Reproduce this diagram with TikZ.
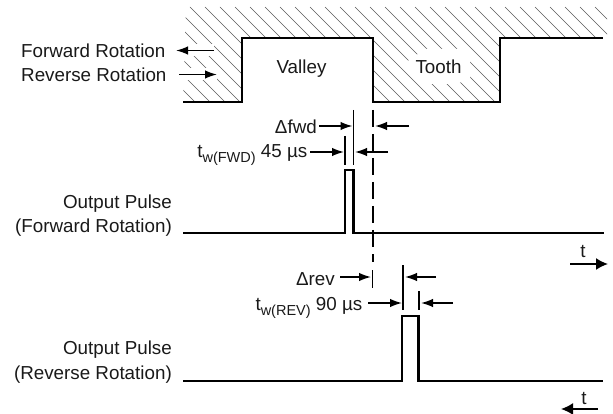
\documentclass[tikz,border=0pt]{standalone}
\usepackage{fontspec}
\setmainfont{Liberation Sans}
\usetikzlibrary{arrows.meta}
\newcommand{\lowsub}[1]{\raisebox{-5pt}{\fontsize{14.5}{16}\selectfont #1}}
\tikzset{
  x=1pt,y=-1pt,
  profile/.style={line width=2.2pt,black,line join=miter},
  hatchline/.style={line width=0.5pt,black!65},
  wave/.style={line width=2.2pt,black,line join=miter},
  tick/.style={line width=1.4pt,black},
  thicktick/.style={line width=1.9pt,black},
  dimarrow/.style={line width=1.5pt,-{Latex[length=12pt,width=8.5pt]}},
  timearrow/.style={line width=1.7pt,-{Latex[length=12pt,width=12pt]}},
  halo/.style={line width=12pt,white},
  label/.style={inner sep=0pt,font=\fontsize{18.8}{22}\selectfont,text=black!90},
}
\begin{document}
\begin{tikzpicture}
\useasboundingbox (0,0) rectangle (613,414);
% hatching above the profile
\begin{scope}
\clip (183,102) -- (242,102) -- (242,38) -- (373,38) -- (373,102) -- (500,102) -- (500,38) -- (607,38) -- (607,7) -- (186,7) -- cycle;
\foreach \k in {-110,-95,...,620}
  \draw[hatchline] (\k,7) -- (\k+100,107);
\end{scope}
% white gaps in the hatching
\fill[white] (405,63) -- (425,49) -- (470,49) -- (470,79) -- (456,84) -- (425,84) -- cycle;
\draw[halo] (178,50.5) -- (214,50.5);
\draw[halo] (178,74.5) -- (217,74.5);
% profile
\coordinate (p0) at (183,102);
\coordinate (p1) at (242,102);
\coordinate (p2) at (242,38);
\coordinate (p3) at (373,38);
\coordinate (p4) at (373,102);
\coordinate (p5) at (500,102);
\coordinate (p6) at (500,38);
\coordinate (p7) at (603,38);
\draw[profile] (p0) -- (p1) -- (p2) -- (p3) -- (p4) -- (p5) -- (p6) -- (p7);
% labels
\node[label,anchor=base west] (fwd) at (21,58) {Forward Rotation};
\node[label,anchor=base west] (rev) at (21,82) {Reverse Rotation};
\coordinate (fwdA) at (214,50.5);
\coordinate (fwdB) at (176,50.5);
\coordinate (revA) at (179,74.5);
\coordinate (revB) at (217,74.5);
\draw[dimarrow] (fwdA) -- (fwdB);
\draw[dimarrow] (revA) -- (revB);
\node[label,anchor=base] (valley) at (301.5,73.5) {Valley};
\node[label,anchor=base] (tooth) at (438.5,74) {Tooth};
% dashed reference
\coordinate (d0) at (372.5,110);
\coordinate (d1) at (372.5,262);
\draw[line width=2pt,dash pattern=on 17pt off 7pt] (d0) -- (d1);
% forward waveform
\coordinate (f0) at (183,233);
\coordinate (f1) at (345,233);
\coordinate (f2) at (345,170);
\coordinate (f3) at (353.5,170);
\coordinate (f4) at (353.5,233);
\coordinate (f5) at (604,233);
\draw[wave] (f0) -- (f1) -- (f2) -- (f3) -- (f4) -- (f5);
% reverse waveform
\coordinate (r0) at (183,381);
\coordinate (r1) at (402,381);
\coordinate (r2) at (402,316);
\coordinate (r3) at (418.5,316);
\coordinate (r4) at (418.5,381);
\coordinate (r5) at (603,381);
\draw[wave] (r0) -- (r1) -- (r2) -- (r3) -- (r4) -- (r5);
% forward dimensions
\coordinate (t1a) at (353.5,110);
\coordinate (t1b) at (353.5,165);
\coordinate (t2a) at (345,136);
\coordinate (t2b) at (345,165);
\draw[tick] (t1a) -- (t1b);
\draw[tick] (t2a) -- (t2b);
\node[label,anchor=base east] (dfwd) at (317,134) {Δfwd};
\node[label,anchor=base east] (twfwd) at (307.5,158) {t\lowsub{w(FWD)} 45 µs};
\coordinate (a1) at (319,126); \coordinate (a2) at (352.5,126);
\coordinate (a3) at (409,126); \coordinate (a4) at (375,126);
\coordinate (a5) at (310,152); \coordinate (a6) at (344,152);
\coordinate (a7) at (388,152); \coordinate (a8) at (355,152);
\draw[dimarrow] (a1) -- (a2);
\draw[dimarrow] (a3) -- (a4);
\draw[dimarrow] (a5) -- (a6);
\draw[dimarrow] (a7) -- (a8);
% reverse dimensions
\coordinate (t3a) at (372.5,270);
\coordinate (t3b) at (372.5,288);
\coordinate (t4a) at (403,265);
\coordinate (t4b) at (403,310);
\coordinate (t5a) at (419,291);
\coordinate (t5b) at (419,310);
\draw[thicktick] (t3a) -- (t3b);
\draw[thicktick] (t4a) -- (t4b);
\draw[thicktick] (t5a) -- (t5b);
\node[label,anchor=base east] (drev) at (335,285) {Δrev};
\node[label,anchor=base east] (twrev) at (362.5,310) {t\lowsub{w(REV)} 90 µs};
\coordinate (b1) at (340,277); \coordinate (b2) at (371,277);
\coordinate (b3) at (436,277); \coordinate (b4) at (405,277);
\coordinate (b5) at (368,303); \coordinate (b6) at (402,303);
\coordinate (b7) at (453,303); \coordinate (b8) at (421,303);
\draw[dimarrow] (b1) -- (b2);
\draw[dimarrow] (b3) -- (b4);
\draw[dimarrow] (b5) -- (b6);
\draw[dimarrow] (b7) -- (b8);
% output labels
\node[label,anchor=base east] (outf1) at (172,208) {Output Pulse};
\node[label,anchor=base east] (outf2) at (172,233) {(Forward Rotation)};
\node[label,anchor=base east] (outr1) at (172,354) {Output Pulse};
\node[label,anchor=base east] (outr2) at (172,379) {(Reverse Rotation)};
% time arrows
\node[label,anchor=base] (t1) at (583,258) {t};
\coordinate (c1) at (570,264); \coordinate (c2) at (608,264);
\draw[timearrow] (c1) -- (c2);
\node[label,anchor=base] (t2) at (584,404) {t};
\coordinate (e1) at (598,409); \coordinate (e2) at (561,409);
\draw[timearrow] (e1) -- (e2);
\end{tikzpicture}
\end{document}
